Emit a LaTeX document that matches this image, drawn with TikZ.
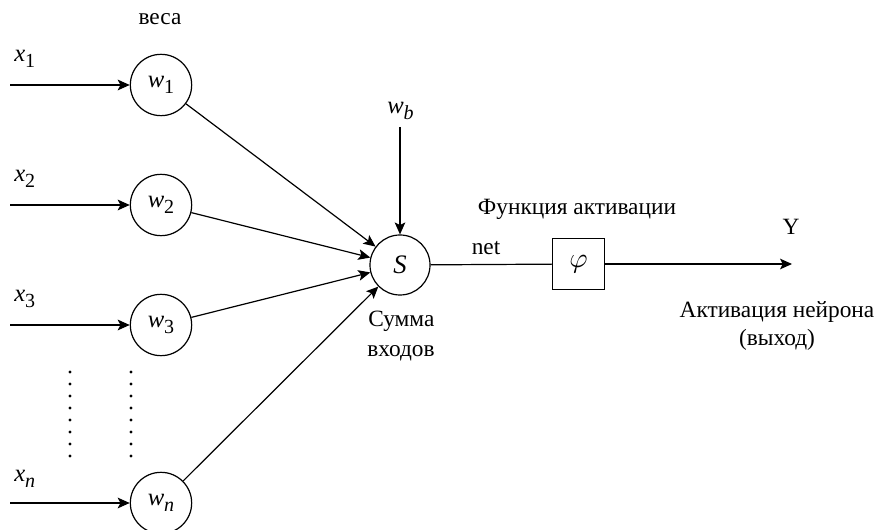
\documentclass[tikz,border=0pt]{standalone}
\usepackage{fontspec}
\usepackage{graphicx}
\setmainfont{Liberation Serif}
\usetikzlibrary{arrows.meta}
\newcommand\vsub[2]{\textit{#1}\raisebox{-4.5pt}{\fontsize{15pt}{15pt}\selectfont #2}}
\begin{document}
\begin{tikzpicture}[x=0.75pt,y=-0.75pt,
  neuron/.style={draw,circle,line width=0.9pt,minimum size=46pt,inner sep=0pt},
  arr/.style={line width=0.9pt,-{Stealth[length=9pt,width=8pt,inset=2pt]}},
  ln/.style={line width=0.9pt},
  lbl/.style={font=\fontsize{17.5pt}{20pt}\selectfont,inner sep=0pt,anchor=base},
  mlbl/.style={font=\fontsize{18.5pt}{20pt}\selectfont}]
\useasboundingbox (0,0) rectangle (877,530);
% weight nodes
\node[neuron,mlbl] (w1) at (161,85) {\vsub{w}{1}};
\node[neuron,mlbl] (w2) at (161,205) {\vsub{w}{2}};
\node[neuron,mlbl] (w3) at (161,325) {\vsub{w}{3}};
\node[neuron,mlbl] (wn) at (161,503) {\vsub{w}{\itshape n}};
% input start points
\coordinate (i1) at (10,85);
\coordinate (i2) at (10,205);
\coordinate (i3) at (10,325);
\coordinate (in) at (10,503);
\draw[arr] (i1) -- (w1);
\draw[arr] (i2) -- (w2);
\draw[arr] (i3) -- (w3);
\draw[arr] (in) -- (wn);
\node[mlbl,inner sep=0pt,anchor=base west] (x1) at (14,62) {\vsub{x}{1}};
\node[mlbl,inner sep=0pt,anchor=base west] (x2) at (14,182) {\vsub{x}{2}};
\node[mlbl,inner sep=0pt,anchor=base west] (x3) at (14,302) {\vsub{x}{3}};
\node[mlbl,inner sep=0pt,anchor=base west] (xn) at (14,481) {\vsub{x}{\itshape n}};
\node[lbl] (veca) at (160,25) {веса};
% sum node
\node[neuron,font=\fontsize{20pt}{22pt}\selectfont,minimum size=45pt] (S) at (400,265) {\textit{S}};
\draw[arr] (w1) -- (S);
\draw[arr] (w2) -- (S);
\draw[arr] (w3) -- (S);
\draw[arr] (wn) -- (S);
\coordinate (b) at (400,127);
\draw[arr] (b) -- (S);
\node[mlbl,inner sep=0pt,anchor=base west] (wb) at (387,114) {\vsub{w}{\itshape b}};
\node[lbl,anchor=base west] (sum1) at (368,327) {Сумма};
\node[lbl,anchor=base west] (sum2) at (367,357) {входов};
% activation
\node[draw,ln,minimum size=38.5pt,inner sep=0pt] (phi) at (578.5,264) {\scalebox{2.1}{$\varphi$}};
\draw[ln] (S) -- (phi);
\node[lbl] (net) at (486,255) {net};
\coordinate (yend) at (792,264);
\draw[arr] (phi) -- (yend);
\node[lbl] (Y) at (791,235) {Y};
\node[lbl] (fa) at (577,215) {Функция активации};
\node[lbl] (act1) at (777,318) {Активация нейрона};
\node[lbl] (act2) at (777,346) {(выход)};
% dots
\foreach \yy in {372,384,...,456} {
  \fill (70,\yy) circle (1.7);
  \fill (131,\yy) circle (1.7);
}
\end{tikzpicture}
\end{document}
